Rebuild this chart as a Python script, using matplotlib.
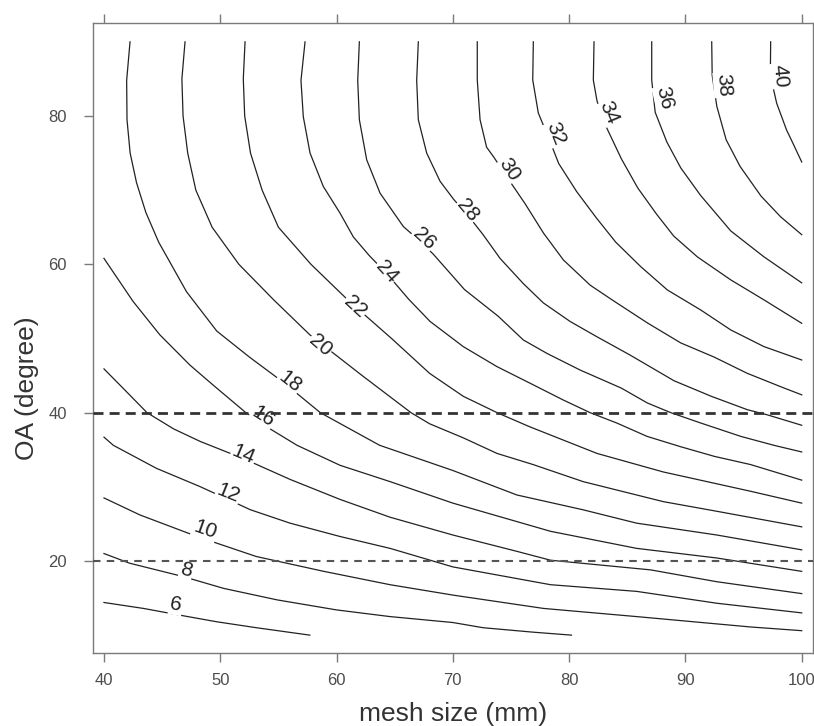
import numpy as np
import matplotlib
matplotlib.use("Agg")
import matplotlib.pyplot as plt

plt.rcParams['font.family'] = ['Liberation Sans', 'DejaVu Sans']

# contour lines: mesh size (mm) and OA (degree)
c6_mesh = [40.0, 43.4, 46.5, 49.7, 53.1, 57.7]
c6_oa = [14.4, 13.6, 12.7, 11.8, 11.0, 10.0]
c8_mesh = [40.0, 42.2, 46.8, 50.3, 54.9, 60.0, 64.6, 70.0, 72.6, 76.9, 80.2]
c8_oa = [21.0, 19.7, 17.9, 16.3, 14.75, 13.4, 12.5, 11.7, 11.0, 10.4, 10.0]
c10_mesh = [40.0, 43.1, 48.0, 53.1, 58.9, 64.6, 70.0, 77.8, 85.8, 95.6, 100.0]
c10_oa = [28.5, 26.2, 23.3, 20.6, 18.6, 16.8, 15.4, 13.6, 12.5, 11.1, 10.6]
c12_mesh = [40.0, 40.8, 44.5, 48.3, 52.6, 56.0, 60.3, 64.6, 70.0, 78.4, 85.8, 92.7, 100.0]
c12_oa = [36.7, 35.6, 32.5, 30.0, 26.9, 25.1, 23.3, 21.7, 19.2, 16.8, 15.9, 14.3, 13.0]
c14_mesh = [40.0, 41.7, 43.7, 46.0, 48.3, 52.0, 56.0, 60.3, 64.6, 70.0, 75.5, 78.4, 87.0, 92.7, 100.0]
c14_oa = [45.9, 43.2, 40.0, 37.8, 36.1, 33.8, 31.0, 28.3, 25.9, 23.5, 21.3, 20.1, 18.8, 17.2, 15.6]
c16_mesh = [40.0, 42.5, 44.8, 47.4, 49.4, 52.2, 54.4, 56.6, 60.3, 64.6, 70.0, 78.4, 85.8, 92.7, 100.0]
c16_oa = [60.8, 55.0, 50.5, 46.4, 43.7, 40.0, 37.7, 35.6, 32.9, 30.7, 27.8, 24.0, 21.7, 20.4, 18.6]
c18_mesh = [42.24, 41.95, 41.98, 42.25, 42.8, 43.6, 44.7, 47.1, 49.7, 52.5, 55.5, 58.6, 63.7,
            70.0, 75.5, 81.2, 85.8, 92.7, 100.0]
c18_oa = [90.0, 84.8, 79.5, 75.0, 71.0, 67.0, 63.0, 56.3, 51.0, 47.5, 44.0, 40.0, 35.6,
          32.2, 28.9, 26.9, 25.1, 23.5, 21.5]
c20_mesh = [46.97, 46.7, 46.8, 47.2, 47.9, 49.3, 51.6, 54.6, 57.7, 62.2, 66.4, 68.0,
            70.9, 73.8, 76.9, 81.2, 88.1, 92.7, 100.0]
c20_oa = [90.0, 85.0, 80.0, 75.0, 70.0, 65.0, 60.0, 55.2, 50.5, 45.0, 40.0, 38.5,
          36.6, 34.5, 33.0, 30.7, 28.0, 26.7, 24.6]
c22_mesh = [52.13, 51.98, 52.1, 52.6, 53.6, 55.0, 57.8, 61.1, 64.8, 68.0, 70.9, 73.8,
            76.6, 79.5, 82.4, 88.1, 95.6, 100.0]
c22_oa = [90.0, 85.0, 80.0, 75.0, 70.0, 65.0, 60.0, 55.0, 49.9, 45.3, 42.2, 40.0,
          38.1, 36.3, 34.5, 32.0, 29.4, 27.8]
c24_mesh = [57.29, 56.94, 57.14, 57.72, 58.86, 60.3, 61.44, 62.8, 64.4, 66.2, 68.04, 70.9, 73.8,
            76.6, 79.5, 81.8, 84.1, 86.7, 89.6, 92.5, 95.6, 100.0]
c24_oa = [90.0, 84.8, 79.9, 75.0, 70.5, 66.9, 63.7, 61.2, 58.6, 55.3, 52.3, 48.9, 46.2,
          44.0, 41.7, 40.0, 38.6, 36.8, 35.4, 34.1, 33.0, 30.9]
c26_mesh = [61.96, 61.82, 61.96, 62.59, 63.74, 65.74, 66.9, 68.3, 71.0, 73.9, 76.06, 78.08,
            80.94, 84.5, 86.73, 88.74, 91.32, 94.76, 97.6, 100.0]
c26_oa = [90.0, 84.8, 79.5, 74.1, 69.6, 65.1, 63.5, 61.4, 56.6, 53.0, 49.8, 48.0,
          45.75, 43.3, 41.3, 40.0, 38.6, 36.8, 35.6, 34.7]
c28_mesh = [67.03, 66.89, 67.03, 67.75, 68.9, 70.1, 71.3, 72.6, 74.06, 76.06, 77.78, 80.08,
            82.37, 85.2, 86.73, 89.02, 92.23, 95.32, 97.05, 100.0]
c28_oa = [90.0, 84.8, 79.5, 75.0, 71.2, 68.7, 66.6, 64.0, 60.8, 57.4, 54.8, 52.3,
          50.25, 47.8, 46.4, 44.3, 42.2, 40.4, 39.7, 38.3]
c30_mesh = [72.1, 72.1, 72.34, 72.9, 73.5, 74.9, 76.2, 77.8, 79.5, 81.8, 83.7, 86.73,
            89.6, 92.46, 95.32, 98.19, 100.0]
c30_oa = [90.0, 84.85, 79.5, 75.8, 74.5, 71.2, 68.2, 64.2, 60.6, 57.2, 55.2, 52.1,
          49.4, 47.5, 45.3, 43.5, 42.4]
c32_mesh = [76.92, 76.87, 77.35, 78.3, 79.1, 80.65, 82.37, 84.0, 86.15, 88.45, 91.32, 93.9,
            96.76, 100.0]
c32_oa = [90.0, 84.85, 80.4, 76.8, 73.6, 69.8, 66.2, 63.0, 59.7, 56.54, 53.84, 51.15,
          48.9, 47.1]
c34_mesh = [82.14, 82.08, 82.4, 83.2, 84.5, 85.9, 87.5, 89.0, 91.03, 93.9, 96.76, 100.0]
c34_oa = [90.0, 84.85, 82.0, 78.5, 74.2, 70.3, 66.8, 63.8, 61.0, 57.9, 55.2, 52.05]
c36_mesh = [87.1, 87.1, 87.4, 88.4, 89.6, 91.3, 93.9, 96.76, 100.0]
c36_oa = [90.0, 84.85, 80.5, 76.5, 73.0, 69.3, 64.5, 61.0, 57.5]
c38_mesh = [92.26, 92.3, 92.7, 93.5, 94.7, 96.5, 98.19, 100.0]
c38_oa = [90.0, 85.5, 81.3, 76.8, 73.2, 69.2, 66.4, 64.0]
c40_mesh = [97.33, 97.3, 97.85, 98.7, 99.1, 100.0]
c40_oa = [90.0, 85.5, 81.7, 78.1, 76.8, 73.8]

levels = [6, 8, 10, 12, 14, 16, 18, 20, 22, 24, 26, 28, 30, 32, 34, 36, 38, 40]
line_mesh = [c6_mesh, c8_mesh, c10_mesh, c12_mesh, c14_mesh, c16_mesh, c18_mesh, c20_mesh,
             c22_mesh, c24_mesh, c26_mesh, c28_mesh, c30_mesh, c32_mesh, c34_mesh, c36_mesh,
             c38_mesh, c40_mesh]
line_oa = [c6_oa, c8_oa, c10_oa, c12_oa, c14_oa, c16_oa, c18_oa, c20_oa,
           c22_oa, c24_oa, c26_oa, c28_oa, c30_oa, c32_oa, c34_oa, c36_oa,
           c38_oa, c40_oa]

# where the level labels sit
label_mesh = [46.2, 47.1, 48.7, 50.7, 52.0, 53.7, 56.0, 58.6, 61.6, 64.3, 67.5, 71.3,
              74.9, 78.8, 83.4, 88.2, 93.3, 98.1]
label_oa = [14.1, 18.8, 24.2, 29.1, 34.3, 39.5, 44.2, 49.1, 54.3, 59.0, 63.4, 67.3,
            72.8, 77.6, 80.4, 82.4, 84.2, 85.4]

# reference lines
ref_oa = [40, 20]

x_ticks = [40, 50, 60, 70, 80, 90, 100]
y_ticks = [20, 40, 60, 80]

W, H = 814, 726
fig = plt.figure(figsize=(W / 100, H / 100), dpi=100)
ax = fig.add_axes([92.7 / W, (H - 653.3) / H, (813 - 92.7) / W, (653.3 - 23.3) / H])
ax.set_xlim(39.03, 100.97)
ax.set_ylim(7.55, 92.5)

for xs, ys in zip(line_mesh, line_oa):
    ax.plot(xs, ys, color='#222222', lw=0.9, solid_joinstyle='round', zorder=2)


def label_angle(xs, ys, x0, y0):
    pts = ax.transData.transform(np.column_stack([xs, ys]))
    p0 = ax.transData.transform((x0, y0))
    i = int(np.argmin(np.hypot(pts[:, 0] - p0[0], pts[:, 1] - p0[1])))
    i0, i1 = max(i - 1, 0), min(i + 1, len(xs) - 1)
    dx, dy = pts[i1] - pts[i0]
    ang = np.degrees(np.arctan2(dy, dx))
    if ang > 90:
        ang -= 180
    if ang < -90:
        ang += 180
    return ang


for lev, xs, ys, lx, ly in zip(levels, line_mesh, line_oa, label_mesh, label_oa):
    rot = label_angle(xs, ys, lx, ly)
    ax.text(lx, ly, str(lev), rotation=rot, rotation_mode='anchor',
            ha='center', va='center', fontsize=15, color='#222222', zorder=3,
            bbox=dict(boxstyle='square,pad=0.05', fc='white', ec='none'))

ax.axhline(ref_oa[0], color='#333333', lw=2.0, ls=(0, (3.6, 2.2)), zorder=4)
ax.axhline(ref_oa[1], color='#555555', lw=1.5, ls=(0, (3.6, 3.0)), zorder=4)

ax.set_xticks(x_ticks)
ax.set_yticks(y_ticks)
for sp in ax.spines.values():
    sp.set_color('#7a7a7a')
    sp.set_linewidth(1.0)
ax.tick_params(axis='both', which='major', direction='out', length=6.5, width=1.0,
               color='#7a7a7a', labelcolor='#4d4d4d', labelsize=12)
ax.tick_params(axis='x', top=True, labeltop=False, pad=8)
ax.tick_params(axis='y', right=False, pad=12)

fig.text((92.7 + 813) / 2 / W, 5 / H, 'mesh size (mm)', ha='center', va='baseline',
         fontsize=19, color='#333333')
fig.text(27 / W, 338 / H, 'OA (degree)', ha='center', va='center', rotation=90,
         fontsize=19, color='#333333')

fig.savefig('out.png', dpi=100, facecolor='white')
